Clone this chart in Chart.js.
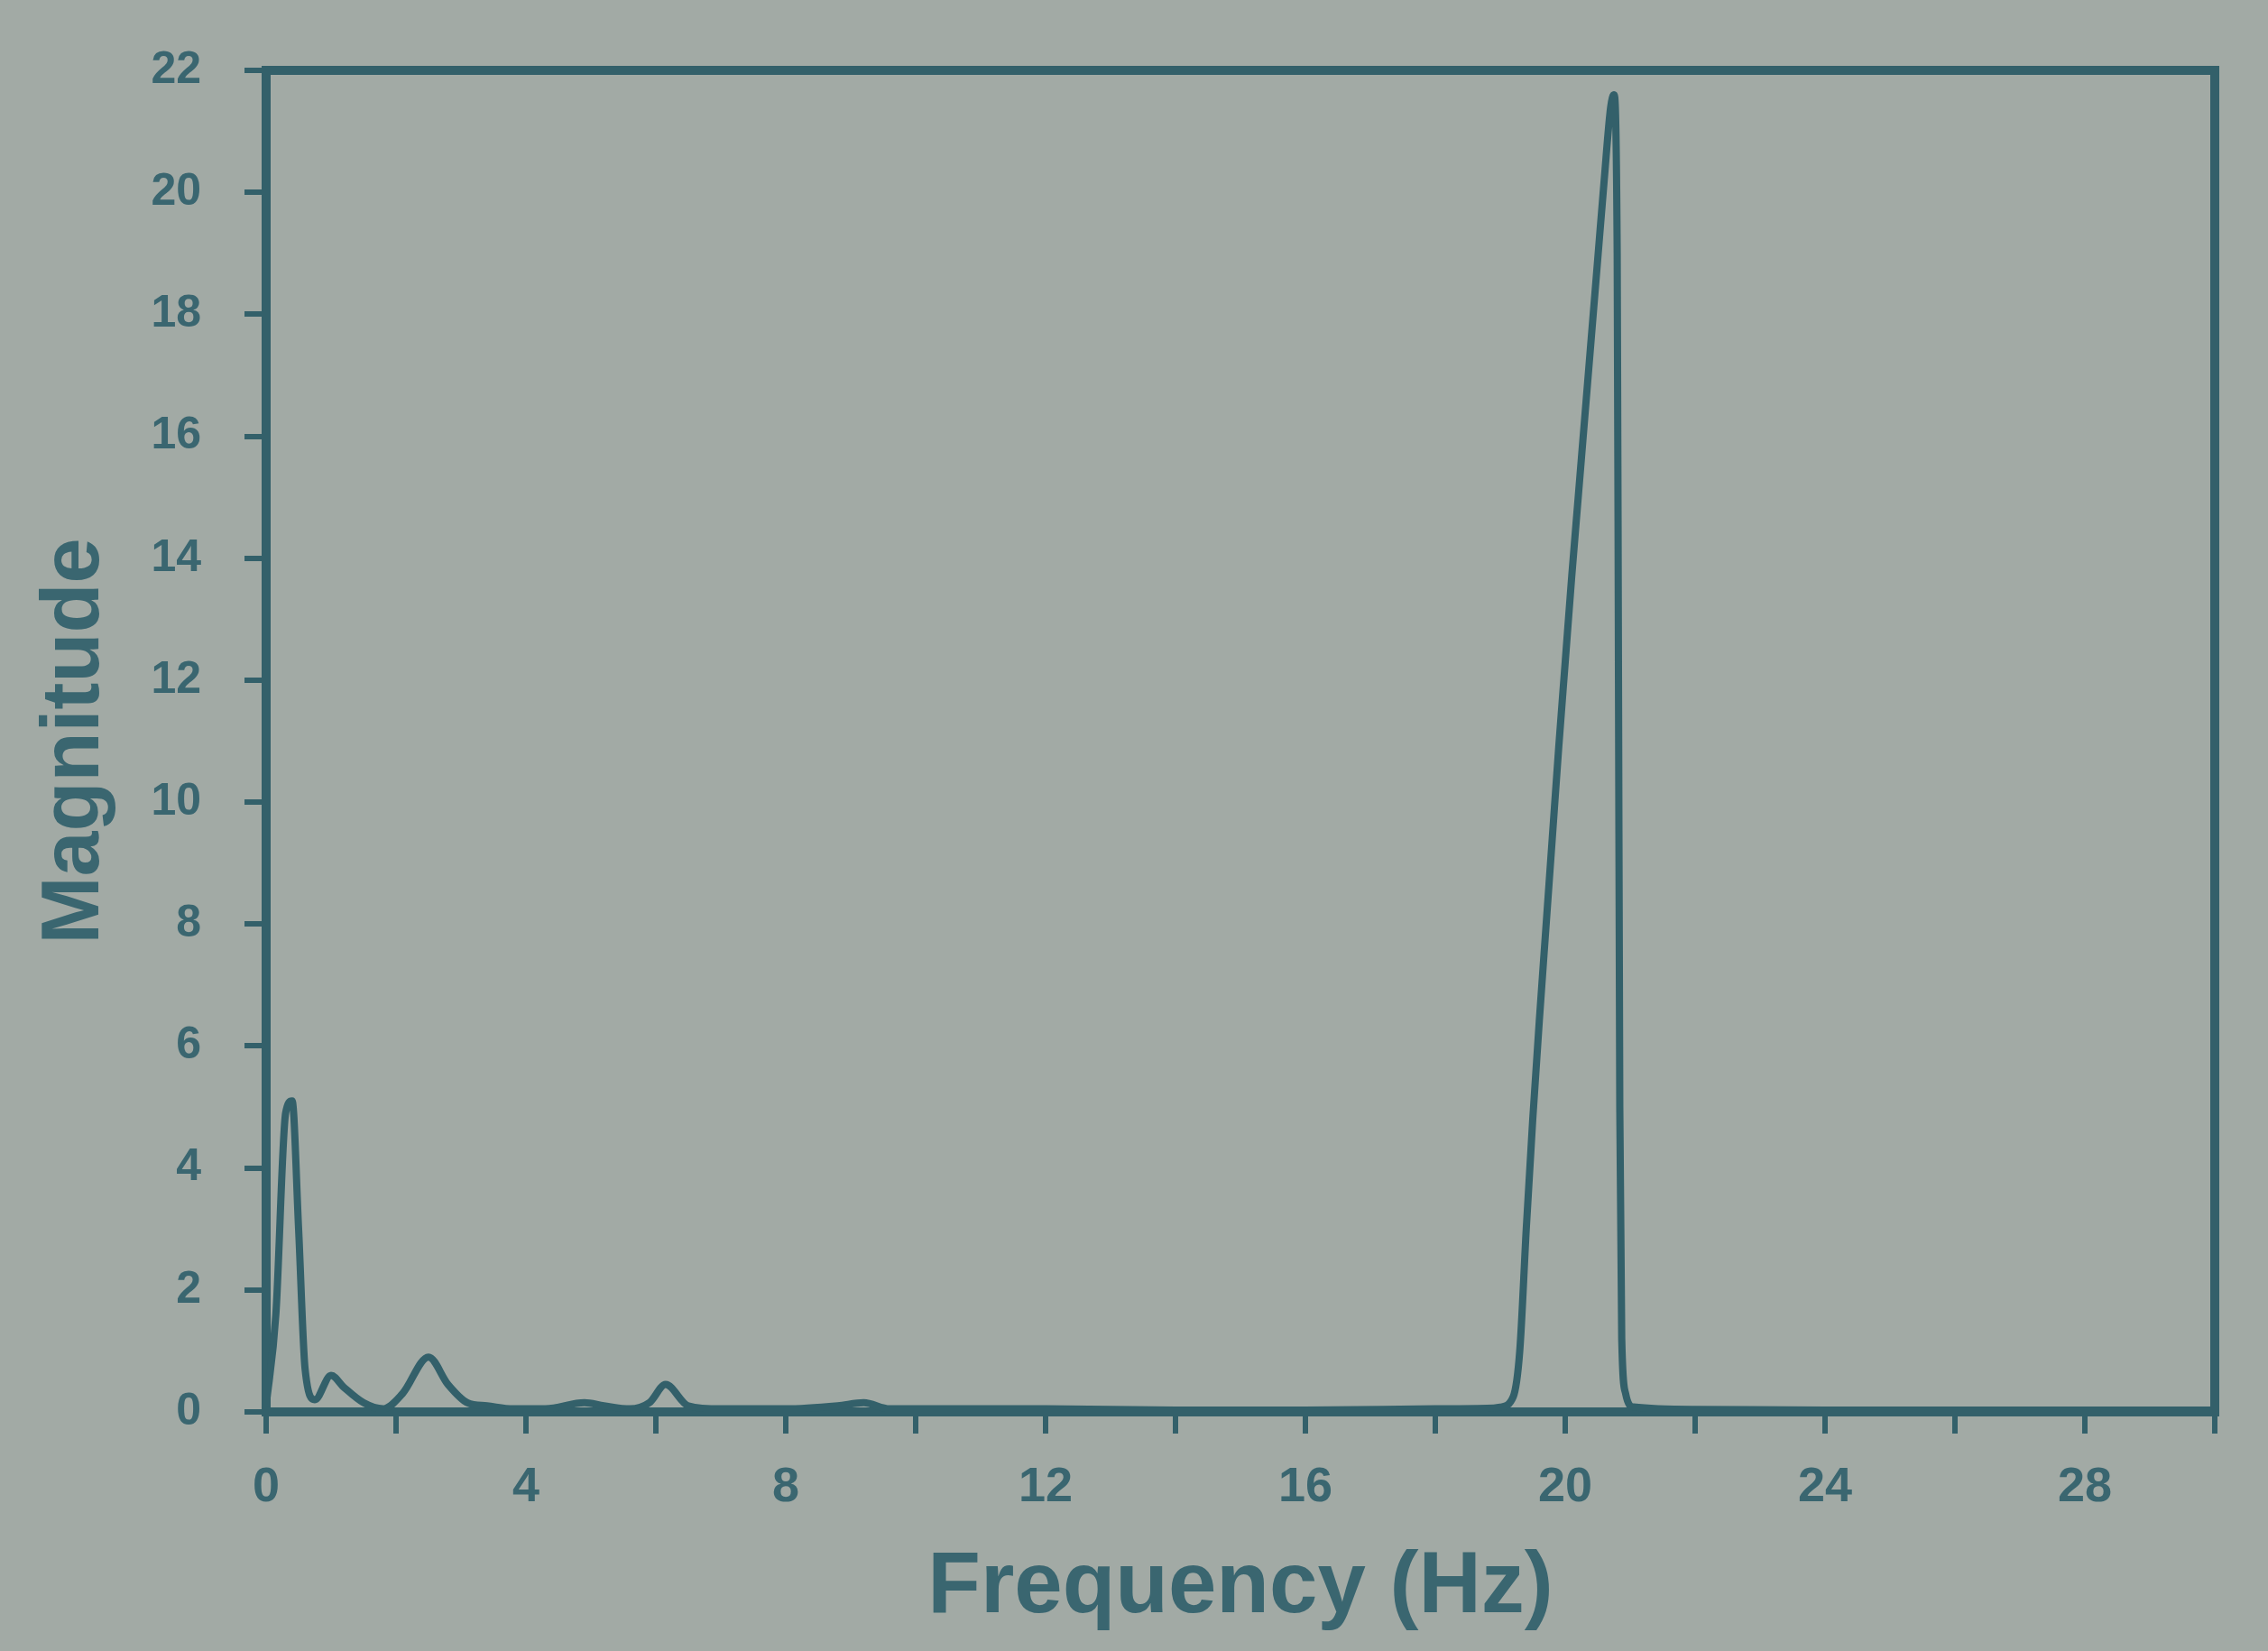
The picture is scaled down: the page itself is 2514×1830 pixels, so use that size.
<!DOCTYPE html>
<html>
<head>
<meta charset="utf-8">
<title>Magnitude vs Frequency</title>
<script src="https://cdn.jsdelivr.net/npm/chart.js@4.4.0/dist/chart.umd.min.js"></script>
<style>
  html, body { margin: 0; padding: 0; background: #a2aaa5; }
  #wrap { width: 2514px; height: 1830px; }
</style>
</head>
<body>
<div id="wrap"><canvas id="spectrum" width="2514" height="1830"></canvas></div>
<script>
// spectrum
var freqHz = [
  0.0, 0.15, 0.3, 0.4, 0.5, 0.6, 0.75, 1.0, 1.2, 1.5, 1.8, 2.1, 2.5, 2.8, 3.1, 3.4,
  3.8, 4.3, 4.9, 5.2, 5.6, 5.9, 6.15, 6.5, 7.0, 8.0, 8.8, 9.2, 9.6, 10.5, 12.0, 14.0,
  16.0, 18.0, 18.8, 19.0, 19.2, 19.3, 19.4, 19.5, 19.6, 19.7, 19.8, 19.9, 20.0, 20.1,
  20.2, 20.3, 20.4, 20.5, 20.6, 20.7, 20.75, 20.8, 20.82, 20.84, 20.87, 20.93, 21.05,
  22.0, 24.0, 27.0, 30.0
];
var magnitude = [
  0.1, 1.6, 4.9, 5.1, 3.0, 0.7, 0.2, 0.6, 0.4, 0.15, 0.05, 0.3, 0.9, 0.45, 0.15, 0.1,
  0.05, 0.05, 0.15, 0.1, 0.05, 0.15, 0.45, 0.1, 0.05, 0.05, 0.1, 0.15, 0.05, 0.05, 0.05, 0.03,
  0.03, 0.05, 0.06, 0.08, 0.25, 1.0, 3.0, 4.8, 6.4, 7.9, 9.4, 10.9, 12.3, 13.7,
  15.0, 16.3, 17.6, 18.9, 20.2, 21.4, 21.6, 19.0, 12.0, 5.0, 1.2, 0.3, 0.08,
  0.04, 0.03, 0.03, 0.03
];
var yTicks = [0, 2, 4, 6, 8, 10, 12, 14, 16, 18, 20, 22];
var xLabelEvery = 4;

var ink = '#33606a';
var textInk = '#3a6670';
var paper = '#a2aaa5';
var face = 'Liberation Sans, Arial, sans-serif';

var points = freqHz.map(function (f, i) { return { x: f, y: magnitude[i] }; });

var framePlugin = {
  id: 'frame',
  beforeDraw: function (chart) {
    var ctx = chart.ctx;
    ctx.save();
    ctx.fillStyle = paper;
    ctx.fillRect(0, 0, chart.width, chart.height);
    ctx.restore();
  },
  afterDraw: function (chart) {
    var a = chart.chartArea, ctx = chart.ctx;
    ctx.save();
    ctx.strokeStyle = ink;
    ctx.lineWidth = 10;
    ctx.lineCap = 'square';
    ctx.beginPath();
    ctx.moveTo(a.left, a.top);
    ctx.lineTo(a.right, a.top);
    ctx.lineTo(a.right, a.bottom);
    ctx.stroke();
    ctx.restore();
  }
};

var config = {
  type: 'line',
  data: {
    datasets: [{
      label: 'Magnitude',
      data: points,
      borderColor: ink,
      borderWidth: 8,
      pointRadius: 0,
      fill: false,
      cubicInterpolationMode: 'monotone'
    }]
  },
  options: {
    responsive: false,
    animation: false,
    layout: { padding: { top: 78, right: 59, bottom: 0, left: 0 } },
    plugins: {
      legend: { display: false },
      tooltip: { enabled: false }
    },
    scales: {
      x: {
        type: 'linear',
        min: 0,
        max: 30,
        afterFit: function (scale) { scale.height = 265; },
        grid: { drawOnChartArea: false, drawTicks: true, tickLength: 24, color: ink, lineWidth: 6 },
        border: { display: true, color: ink, width: 10 },
        ticks: {
          stepSize: 2,
          padding: 28,
          color: textInk,
          font: { family: face, size: 54, weight: 'bold' },
          maxRotation: 0,
          autoSkip: false,
          callback: function (v) { return v % xLabelEvery === 0 ? v : ''; }
        },
        title: {
          display: true,
          text: 'Frequency (Hz)',
          color: textInk,
          font: { family: face, size: 96, weight: 'bold' },
          padding: { top: 0, bottom: 12 }
        }
      },
      y: {
        type: 'linear',
        min: 0,
        max: 22,
        afterFit: function (scale) { scale.width = 295; },
        afterBuildTicks: function (scale) {
          scale.ticks = yTicks.map(function (v) { return { value: v }; });
        },
        grid: { drawOnChartArea: false, drawTicks: true, tickLength: 24, color: ink, lineWidth: 6 },
        border: { display: true, color: ink, width: 10 },
        ticks: {
          padding: 48,
          color: textInk,
          font: { family: face, size: 50, weight: 'bold' }
        },
        title: {
          display: true,
          text: 'Magnitude',
          color: textInk,
          font: { family: face, size: 90, weight: 'bold' },
          padding: { top: 30, bottom: 0 }
        }
      }
    }
  },
  plugins: [framePlugin]
};

window.onload = function () {
  var ctx = document.getElementById('spectrum').getContext('2d');
  window.spectrumChart = new Chart(ctx, config);
};
</script>
</body>
</html>
